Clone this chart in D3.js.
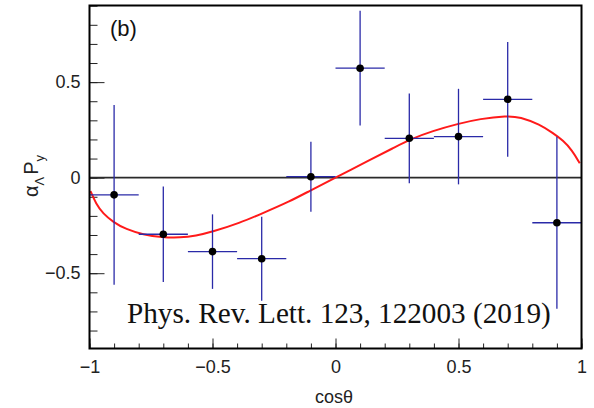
<!DOCTYPE html>
<html lang="en">
<head>
<meta charset="UTF-8">
<title>alpha P_y vs cos theta</title>
<script src="https://d3js.org/d3.v7.min.js"></script>
<style>
    body { margin: 0; background: #fff; }
    svg { display: block; font-family: 'Liberation Sans', Arial, sans-serif; }
    .tick text { fill: #222; font-size: 18px; }
</style>
</head>
<body>
<div id="chart"></div>
<script>
// measured points (bin centres, values, errors)
const cosTheta = [-0.9, -0.7, -0.5, -0.3, -0.1, 0.1, 0.3, 0.5, 0.7, 0.9];
const binHalfWidth = [0.1, 0.1, 0.1, 0.1, 0.1, 0.1, 0.1, 0.1, 0.1, 0.1];
const alphaPy = [-0.09, -0.296, -0.387, -0.424, 0.005, 0.573, 0.206, 0.215, 0.41, -0.236];
const alphaPyErr = [0.47, 0.25, 0.195, 0.22, 0.183, 0.30, 0.235, 0.25, 0.30, 0.45];

// fit curve
const fitCos = [-0.996, -0.973, -0.945, -0.904, -0.852, -0.782, -0.705, -0.632, -0.567, -0.502,
                -0.388, -0.303, -0.185, -0.104, 0.0, 0.14, 0.234, 0.299, 0.396, 0.498,
                0.587, 0.697, 0.75, 0.831, 0.884, 0.925, 0.962, 0.993];
const fitVal = [-0.07, -0.138, -0.188, -0.232, -0.27, -0.298, -0.312, -0.314, -0.304, -0.284,
                -0.236, -0.19, -0.124, -0.068, 0.0, 0.093, 0.154, 0.199, 0.245, 0.282,
                0.308, 0.324, 0.318, 0.278, 0.233, 0.195, 0.143, 0.075];

const xMajor = [-1, -0.5, 0, 0.5, 1];
const yMajor = [-0.5, 0, 0.5];
const citation = "Phys. Rev. Lett. 123, 122003 (2019)";

const W = 594, H = 408;
const plot = { left: 89.5, right: 581.5, top: 5.5, bottom: 348.5 };

const svg = d3.select("#chart").append("svg")
    .attr("width", W).attr("height", H);

const x = d3.scaleLinear().domain([-1, 1]).range([plot.left, plot.right]);
const y = d3.scaleLinear().domain([-0.894, 0.901]).range([plot.bottom, plot.top]);

// tick marks pointing inwards
svg.append("g").attr("transform", `translate(${plot.left},0)`)
    .call(d3.axisRight(y).tickValues(y.ticks(20)).tickSize(8).tickFormat(""));
svg.append("g").attr("transform", `translate(${plot.left},0)`)
    .call(d3.axisRight(y).tickValues(yMajor).tickSize(15).tickFormat(""));
svg.append("g").attr("transform", `translate(0,${plot.bottom})`)
    .call(d3.axisTop(x).tickValues(x.ticks(20)).tickSize(5).tickFormat(""));
svg.append("g").attr("transform", `translate(0,${plot.bottom})`)
    .call(d3.axisTop(x).tickValues(xMajor).tickSize(10).tickFormat(""));
svg.selectAll(".domain").remove();
svg.selectAll(".tick line").attr("stroke", "#222").attr("stroke-width", 1);

// tick labels
const fmt = d3.format("~g");
svg.append("g").attr("transform", `translate(${plot.left},0)`)
    .call(d3.axisLeft(y).tickValues(yMajor).tickSize(0).tickPadding(9).tickFormat(fmt))
    .call(g => g.select(".domain").remove());
svg.append("g").attr("transform", `translate(0,${plot.bottom})`)
    .call(d3.axisBottom(x).tickValues(xMajor).tickSize(0).tickPadding(12).tickFormat(fmt))
    .call(g => g.select(".domain").remove());
svg.selectAll(".tick text").attr("font-family", "'Liberation Sans', Arial, sans-serif");

// zero line
svg.append("line")
    .attr("x1", x(-1)).attr("x2", x(1))
    .attr("y1", y(0)).attr("y2", y(0))
    .attr("stroke", "#2a2a2a").attr("stroke-width", 1.6);

// fit curve
const pts = fitCos.map((c, i) => [c, fitVal[i]]);
svg.append("path")
    .datum(pts)
    .attr("fill", "none")
    .attr("stroke", "#ff1a1a")
    .attr("stroke-width", 2)
    .attr("d", d3.line().x(d => x(d[0])).y(d => y(d[1])).curve(d3.curveBasis));

// error bars
const data = cosTheta.map((c, i) => ({ c, v: alphaPy[i], e: alphaPyErr[i], hw: binHalfWidth[i] }));
const bars = svg.append("g").attr("stroke", "#2a2aa8").attr("stroke-width", 1.3);
bars.selectAll(".ey").data(data).enter().append("line")
    .attr("x1", d => x(d.c)).attr("x2", d => x(d.c))
    .attr("y1", d => y(d.v - d.e)).attr("y2", d => y(d.v + d.e));
bars.selectAll(".ex").data(data).enter().append("line")
    .attr("x1", d => x(d.c - d.hw)).attr("x2", d => x(d.c + d.hw))
    .attr("y1", d => y(d.v)).attr("y2", d => y(d.v));
svg.append("g").selectAll("circle").data(data).enter().append("circle")
    .attr("cx", d => x(d.c)).attr("cy", d => y(d.v)).attr("r", 3.8)
    .attr("fill", "#000");

// frame
svg.append("rect")
    .attr("x", plot.left).attr("y", plot.top)
    .attr("width", plot.right - plot.left).attr("height", plot.bottom - plot.top)
    .attr("fill", "none").attr("stroke", "#000").attr("stroke-width", 2);

// panel tag
svg.append("text").attr("x", 110).attr("y", 36)
    .attr("font-size", 22).attr("fill", "#111").text("(b)");

// axis titles
svg.append("text").attr("x", 334).attr("y", 403)
    .attr("text-anchor", "middle").attr("font-size", 18).attr("fill", "#222")
    .text("cosθ");

const yt = svg.append("text")
    .attr("transform", "translate(38,176) rotate(-90)")
    .attr("text-anchor", "middle").attr("font-size", 20).attr("fill", "#222");
yt.append("tspan").text("α");
yt.append("tspan").attr("font-size", 13).attr("dy", 6).text("Λ");
yt.append("tspan").attr("dy", -6).attr("dx", 2).text("P");
yt.append("tspan").attr("font-size", 13).attr("dy", 6).text("y");

// citation
const cite = svg.append("text")
    .attr("x", 127).attr("y", 323)
    .attr("font-family", "'Liberation Serif', 'DejaVu Serif', serif")
    .attr("font-size", 30).attr("fill", "#111")
    .text(citation);
const len = cite.node().getComputedTextLength();
cite.attr("font-size", 30 * 424 / len);
</script>
</body>
</html>
